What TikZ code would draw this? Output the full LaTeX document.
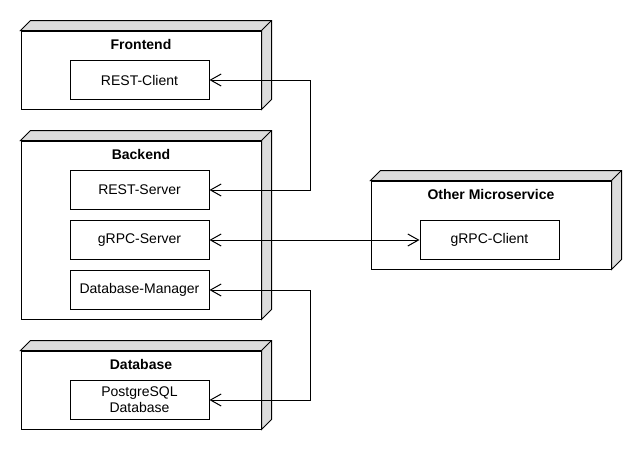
\documentclass[tikz,border=0pt]{standalone}
\usepackage{fontspec}
\setmainfont{Liberation Sans}
\usetikzlibrary{arrows.meta}
\definecolor{depGrey}{HTML}{DCDCDC}

\begin{document}
\begin{tikzpicture}[
    x=0.75pt, y=-0.75pt,
    every node/.style={font=\fontsize{10.5}{12}\selectfont},
    % --- node styles ---
    devbox/.style={draw, fill=white, line width=0.75pt, inner sep=0pt},
    compbox/.style={draw, fill=white, line width=0.75pt, minimum width=139*0.75pt,
                    minimum height=39*0.75pt, inner sep=0pt, align=center},
    ttl/.style={font=\bfseries\fontsize{10.5}{12}\selectfont},
    side/.style={draw, fill=depGrey, line width=0.75pt, line join=miter},
    % --- connector styles ---
    arr/.style={{Straight Barb[length=8pt, width=9pt, line width=0.75pt]}-{Straight Barb[length=8pt, width=9pt, line width=0.75pt]},
                line width=0.75pt},
]
\useasboundingbox (0,0) rectangle (640,450);

% ===== DEVICE NODES ========================================================

\node[devbox, minimum width=240*0.75pt, minimum height=78*0.75pt] (fe) at (141, 70) {};
\node[devbox, minimum width=240*0.75pt, minimum height=178*0.75pt] (be) at (141, 230) {};
\node[devbox, minimum width=240*0.75pt, minimum height=78*0.75pt] (db) at (141, 390) {};
\node[devbox, minimum width=240*0.75pt, minimum height=88*0.75pt] (ms) at (491, 225) {};

% -- 3d faces --
\foreach \n in {fe, be, db, ms} {
    \draw[side] (\n.north west) -- ++(10,-10) -- ([shift={(10,-10)}]\n.north east)
        -- ([shift={(10,-10)}]\n.south east) -- (\n.south east) -- (\n.north east) -- cycle;
    \draw[line width=0.75pt] (\n.north east) -- ++(10,-10);
}

% -- titles --
\node[ttl] (feT) at (141, 44) {Frontend};
\node[ttl] (beT) at (141, 154) {Backend};
\node[ttl] (dbT) at (141, 364) {Database};
\node[ttl] (msT) at (491, 194) {Other Microservice};

% ===== COMPONENTS ==========================================================

\node[compbox] (restc) at (139.5, 80) {REST-Client};
\node[compbox] (rests) at (139.5, 190) {REST-Server};
\node[compbox] (grpcs) at (139.5, 240) {gRPC-Server};
\node[compbox] (dbm)   at (139.5, 290) {Database-Manager};
\node[compbox] (pg)    at (139.5, 400) {PostgreSQL\\Database};
\node[compbox] (grpcc) at (489.5, 240) {gRPC-Client};

% -- Arrows --
\draw[arr] (rests.east) -- ++(101,0) |- (restc.east);
\draw[arr] (grpcs.east) -- (grpcc.west);
\draw[arr] (dbm.east)   -- ++(101,0) |- (pg.east);

\end{tikzpicture}
\end{document}
